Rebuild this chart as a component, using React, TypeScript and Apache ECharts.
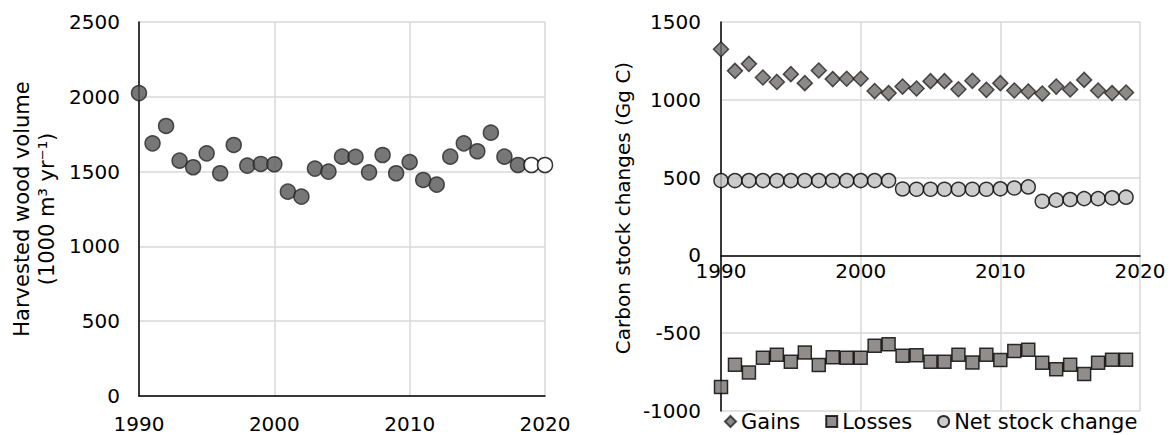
import React, { useEffect, useRef } from "react";
import * as echarts from "echarts";

// Left panel: harvested wood volume (1000 m3 / yr)
const harvestYears = [1990, 1991, 1992, 1993, 1994, 1995, 1996, 1997, 1998, 1999, 2000, 2001, 2002, 2003, 2004, 2005, 2006, 2007, 2008, 2009, 2010, 2011, 2012, 2013, 2014, 2015, 2016, 2017, 2018];
const harvestVolume = [2025, 1689, 1805, 1573, 1529, 1622, 1489, 1678, 1540, 1551, 1549, 1366, 1333, 1520, 1500, 1600, 1598, 1495, 1611, 1489, 1564, 1444, 1413, 1600, 1689, 1636, 1760, 1600, 1544];
const projectedYears = [2019, 2020];
const projectedVolume = [1544, 1544];

// Right panel: carbon stock changes (Gg C)
const carbonYears = [1990, 1991, 1992, 1993, 1994, 1995, 1996, 1997, 1998, 1999, 2000, 2001, 2002, 2003, 2004, 2005, 2006, 2007, 2008, 2009, 2010, 2011, 2012, 2013, 2014, 2015, 2016, 2017, 2018, 2019];
const gains = [1325, 1186, 1231, 1143, 1115, 1165, 1107, 1188, 1133, 1135, 1135, 1056, 1043, 1085, 1073, 1120, 1120, 1068, 1122, 1064, 1107, 1060, 1053, 1040, 1085, 1066, 1128, 1060, 1043, 1047];
const losses = [-846, -703, -752, -658, -639, -684, -624, -705, -654, -658, -658, -581, -571, -645, -641, -684, -684, -639, -688, -639, -673, -615, -607, -690, -731, -703, -763, -690, -671, -671];
const netChange = [481, 481, 481, 481, 481, 481, 481, 481, 481, 481, 481, 481, 481, 427, 425, 425, 425, 425, 425, 425, 428, 433, 440, 348, 355, 359, 365, 365, 370, 374];

const yearTicks = { min: 1990, max: 2020, interval: 10 };
const leftTicks = { min: 0, max: 2500, interval: 500 };
const rightTicks = { min: -1000, max: 1500, interval: 500 };

const FONT = "DejaVu Sans";
const GRID = "#d9d9d9";
const RIGHT_GRID_HEIGHT = 389;

function pairs(xs: number[], ys: number[]) {
  return xs.map((x, i) => [x, ys[i]]);
}

export default function App() {
  const ref = useRef<HTMLDivElement>(null);
  useEffect(() => {
    if (!ref.current) return;
    const chart = echarts.init(ref.current, undefined, { renderer: "svg" });
    const plain = (v: number) => String(v);
    const axisLabel = { fontFamily: FONT, fontSize: 20, color: "#000", formatter: plain };
    const splitLine = { show: true, lineStyle: { color: GRID, width: 1.5 } };
    // move the right x axis up to the zero line of its value axis
    const zeroOffset = -RIGHT_GRID_HEIGHT * (0 - rightTicks.min) / (rightTicks.max - rightTicks.min);
    chart.setOption({
      animation: false,
      backgroundColor: "#fff",
      grid: [
        { left: 139, top: 22, width: 406, height: 374 },
        { left: 721, top: 22, width: 419, height: RIGHT_GRID_HEIGHT },
      ],
      xAxis: [
        {
          type: "value", gridIndex: 0, ...yearTicks,
          axisLine: { show: true, lineStyle: { color: "#000", width: 1.5 } },
          axisTick: { show: false },
          splitLine,
          axisLabel: { ...axisLabel, margin: 18 },
        },
        {
          type: "value", gridIndex: 1, ...yearTicks,
          position: "bottom",
          offset: zeroOffset,
          axisLine: { show: true, onZero: false, lineStyle: { color: "#000", width: 1.5 } },
          axisTick: { show: false },
          splitLine,
          axisLabel: { ...axisLabel, margin: 6 },
        },
      ],
      yAxis: [
        {
          type: "value", gridIndex: 0, ...leftTicks,
          axisLine: { show: true, lineStyle: { color: "#000", width: 1.5 } },
          axisTick: { show: false },
          splitLine,
          axisLabel: { ...axisLabel, margin: 19 },
        },
        {
          type: "value", gridIndex: 1, ...rightTicks,
          axisLine: { show: true, onZero: false, lineStyle: { color: "#000", width: 1.5 } },
          axisTick: { show: false },
          splitLine,
          axisLabel: { ...axisLabel, margin: 20 },
        },
      ],
      legend: {
        left: 719,
        top: 406,
        itemWidth: 11,
        itemHeight: 11,
        itemGap: 25,
        textStyle: { fontFamily: FONT, fontSize: 21, color: "#000" },
        data: [
          { name: "Gains", icon: "diamond" },
          { name: "Losses", icon: "rect" },
          { name: "Net stock change", icon: "circle" },
        ],
      },
      graphic: [
        {
          type: "text", x: 22, y: 209, rotation: Math.PI / 2,
          style: { text: "Harvested wood volume", fontFamily: FONT, fontSize: 21, fill: "#000", align: "center", verticalAlign: "middle" },
        },
        {
          type: "text", x: 47, y: 209, rotation: Math.PI / 2,
          style: { text: "(1000 m³ yr⁻¹)", fontFamily: FONT, fontSize: 21, fill: "#000", align: "center", verticalAlign: "middle" },
        },
        {
          type: "text", x: 623, y: 208, rotation: Math.PI / 2,
          style: { text: "Carbon stock changes (Gg C)", fontFamily: FONT, fontSize: 20, fill: "#000", align: "center", verticalAlign: "middle" },
        },
      ],
      series: [
        {
          name: "Harvest", type: "scatter", xAxisIndex: 0, yAxisIndex: 0, clip: false,
          symbol: "circle", symbolSize: 15,
          itemStyle: { color: "#555555", borderColor: "#262626", borderWidth: 1.5 },
          data: pairs(harvestYears, harvestVolume),
        },
        {
          name: "Harvest projected", type: "scatter", xAxisIndex: 0, yAxisIndex: 0, clip: false,
          symbol: "circle", symbolSize: 15,
          itemStyle: { color: "#ffffff", borderColor: "#000", borderWidth: 1.5 },
          data: pairs(projectedYears, projectedVolume),
        },
        {
          name: "Gains", type: "scatter", xAxisIndex: 1, yAxisIndex: 1, clip: false,
          symbol: "diamond", symbolSize: 15,
          itemStyle: { color: "#6f6b6b", borderColor: "#262626", borderWidth: 1.5 },
          data: pairs(carbonYears, gains),
        },
        {
          name: "Losses", type: "scatter", xAxisIndex: 1, yAxisIndex: 1, clip: false,
          symbol: "rect", symbolSize: 13,
          itemStyle: { color: "#767171", borderColor: "#000", borderWidth: 1.5 },
          data: pairs(carbonYears, losses),
        },
        {
          name: "Net stock change", type: "scatter", xAxisIndex: 1, yAxisIndex: 1, clip: false,
          symbol: "circle", symbolSize: 14,
          itemStyle: { color: "#bfbfbf", borderColor: "#000", borderWidth: 1.5 },
          data: pairs(carbonYears, netChange),
        },
      ],
    });
    return () => chart.dispose();
  }, []);
  return (
    <div
      ref={ref}
      style={{ position: "fixed", left: 0, top: 0, width: 1173, height: 435 }}
    />
  );
}
